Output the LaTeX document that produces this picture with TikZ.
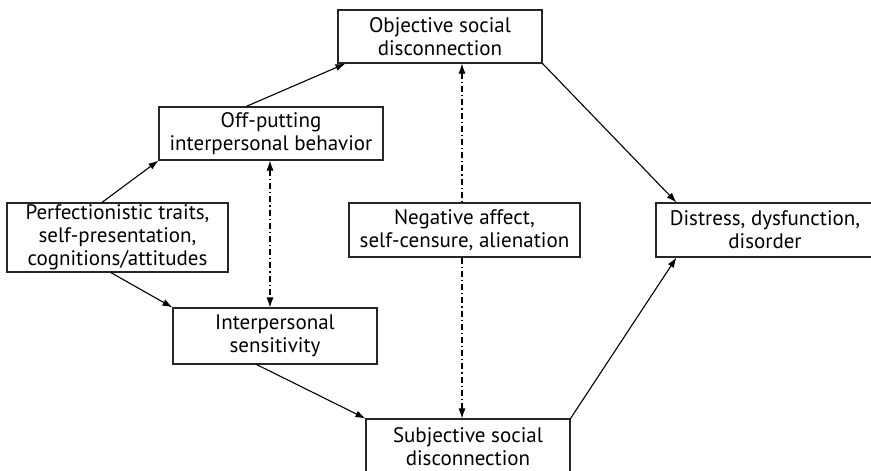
\documentclass[tikz,border=0pt]{standalone}
\usepackage{fontspec}
\setmainfont{PT Sans}
\usetikzlibrary{arrows.meta,calc}

\begin{document}
\begin{tikzpicture}[
  x=1pt, y=-1pt,
  box/.style={draw=black!85, line width=1.1pt, fill=white, inner sep=0pt,
    align=center, font=\fontsize{21}{23}\selectfont},
  link/.style={line width=1.1pt, -{Latex[length=10pt,width=7pt]}},
  dualink/.style={line width=1.1pt, {Latex[length=10pt,width=7pt]}-{Latex[length=10pt,width=7pt]},
    dash pattern=on 6pt off 3pt on 1.2pt off 3pt}
]
\useasboundingbox (0,0) rectangle (871,471);

% vertical track of the long dash-dot link (drawn first, box covers it)
\coordinate (vx) at (462,0);

\node[box, minimum width=204pt, minimum height=53pt] (obj) at (440,36.5)
  {Objective social\\disconnection};
\node[box, minimum width=224pt, minimum height=53pt] (off) at (271,133.5)
  {Off-putting\\interpersonal behavior};
\node[box, minimum width=221pt, minimum height=69pt] (perf) at (117.5,237.5)
  {Perfectionistic traits,\\self-presentation,\\cognitions/attitudes};
\node[box, minimum width=204pt, minimum height=56pt] (inter) at (275,336)
  {Interpersonal\\sensitivity};
\node[box, minimum width=204pt, minimum height=55pt] (subj) at (468,446.5)
  {Subjective social\\disconnection};
\node[box, minimum width=218pt, minimum height=54pt] (dist) at (765,230)
  {Distress, dysfunction,\\disorder};

% dash-dot links
\draw[dualink] (obj.south -| vx) -- (subj.north -| vx);
\draw[dualink] (off.south -| 270,0) -- (inter.north -| 270,0);

% the box in the middle sits on top of the long dash-dot link
\node[box, minimum width=231pt, minimum height=54pt] (neg) at (464.5,230)
  {Negative affect,\\self-censure, alienation};

% solid causal links
\draw[link] ($(perf.north west)!0.43!(perf.north east)$) -- (off.south west);
\draw[link] ($(perf.south west)!0.47!(perf.south east)$) -- (inter.north west);
\draw[link] ($(off.north west)!0.39!(off.north east)$) -- ($(obj.south west)+(8,0)$);
\draw[link] (obj.south east) -- ($(dist.north west)+(21,0)$);
\draw[link] ($(inter.south west)!0.41!(inter.south east)$) -- (subj.north west);
\draw[link] (subj.north east) -- ($(dist.south west)+(21,0)$);
\end{tikzpicture}
\end{document}
